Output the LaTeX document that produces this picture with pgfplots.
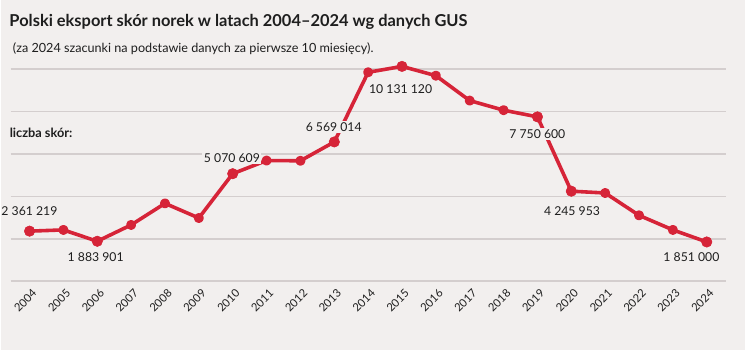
\documentclass[border=0pt]{standalone}
\usepackage{pgfplots}
\pgfplotsset{compat=1.18}
\usepackage{fontspec}
\setmainfont{Lato}
\definecolor{bg}{RGB}{242,239,238}
\definecolor{gridc}{RGB}{212,206,206}
\definecolor{red1}{RGB}{214,36,56}
\definecolor{txt}{RGB}{30,30,30}
\pgfplotstableread{
x year value
0 2004 2361219
1 2005 2419000
2 2006 1883901
3 2007 2654000
4 2008 3670000
5 2009 2980000
6 2010 5070609
7 2011 5690000
8 2012 5680000
9 2013 6569014
10 2014 9854000
11 2015 10131120
12 2016 9694000
13 2017 8518000
14 2018 8066000
15 2019 7750600
16 2020 4245953
17 2021 4160000
18 2022 3106000
19 2023 2419000
20 2024 1851000
}\datatable
\pgfplotstableread{
x value
0 2361219
2 1883901
6 5070609
9 6569014
11 10131120
15 7750600
16 4245953
20 1851000
}\bigdots
\begin{document}
\begin{tikzpicture}
\fill[bg] (0bp,0bp) rectangle (745bp,351bp);
\begin{axis}[
  at={(9.3bp,69.3bp)}, anchor=south west,
  scale only axis, width=716.7bp, height=212.4bp,
  xmin=-0.56, xmax=20.57, ymin=0, ymax=10000000,
  axis line style={draw=none},
  scaled y ticks=false,
  ytick={0,2000000,4000000,6000000,8000000,10000000},
  yticklabels={},
  ymajorgrids, grid style={gridc, line width=1.5bp},
  major tick length=0pt,
  xtick={0,...,20},
  xticklabels={2004,2005,2006,2007,2008,2009,2010,2011,2012,2013,2014,2015,2016,2017,2018,2019,2020,2021,2022,2023,2024},
  xticklabel style={xshift=-4.3bp, yshift=-19.5bp, rotate=45, anchor=center, inner sep=0pt, font=\fontsize{11.3}{12}\selectfont, text=txt},
  clip=false,
]
\addplot[red1, line width=3.6bp, line join=round, mark=*, mark size=3.2bp, mark options={fill=red1, draw=none}] table[x=x, y=value] {\datatable};
\addplot[red1, only marks, mark=*, mark size=5.3bp, mark options={fill=red1, draw=none}] table[x=x, y=value] {\bigdots};
\end{axis}
\begin{scope}[x=1bp, y=1bp, every node/.style={text=txt}]
\node[anchor=base west, inner sep=0pt, font=\fontsize{16.5}{18}\selectfont\bfseries] at (8, 324.3) {Polski eksport skór norek w latach 2004–2024 wg danych GUS};
\node[anchor=base west, inner sep=0pt, font=\fontsize{12.7}{14}\selectfont] at (11.5, 298.7) {(za 2024 szacunki na podstawie danych za pierwsze 10 miesięcy).};
\node[anchor=base west, inner sep=0pt, font=\fontsize{12.8}{14}\selectfont\bfseries] at (8.3, 213.7) {liczba skór:};
\begin{scope}[every node/.style={text=txt, font=\fontsize{12.3}{14}\selectfont, inner sep=1.5bp}]
\node at (28.2, 351-211) {2 361 219};
\node at (94.5, 351-258) {1 883 901};
\node[fill=bg] at (231, 351-158) {5 070 609};
\node[fill=bg] at (333, 351-127) {6 569 014};
\node at (400, 351-89) {10 131 120};
\node[fill=bg] at (537, 351-134) {7 750 600};
\node at (571.7, 351-211) {4 245 953};
\node at (691.3, 351-258) {1 851 000};
\end{scope}
\end{scope}
\end{tikzpicture}
\end{document}
